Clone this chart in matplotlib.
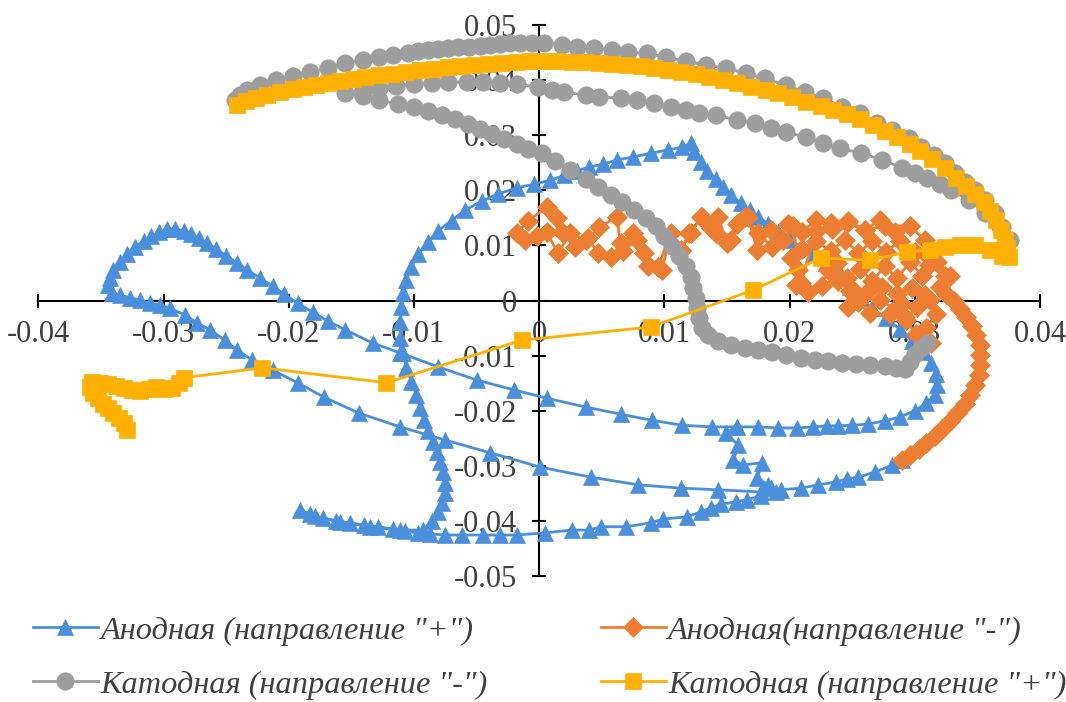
import matplotlib
matplotlib.use("Agg")
import matplotlib.pyplot as plt
from matplotlib import ticker

# Trajectories (x, y) of the four measurement series
anode_plus = [
    (0.0290, -0.0289), (0.0282, -0.0298), (0.0268, -0.0311), (0.0255, -0.0320), (0.0246, -0.0323),
    (0.0237, -0.0329), (0.0223, -0.0334), (0.0209, -0.0340), (0.0193, -0.0343), (0.0185, -0.0340),
    (0.0177, -0.0347), (0.0143, -0.0343), (0.0113, -0.0340), (0.0079, -0.0334), (0.0041, -0.0320),
    (0.0001, -0.0302), (-0.0039, -0.0276), (-0.0075, -0.0253), (-0.0111, -0.0229), (-0.0144, -0.0204),
    (-0.0172, -0.0175), (-0.0193, -0.0149), (-0.0213, -0.0126), (-0.0229, -0.0108), (-0.0241, -0.0090),
    (-0.0251, -0.0072), (-0.0263, -0.0053), (-0.0273, -0.0041), (-0.0283, -0.0026), (-0.0295, -0.0014),
    (-0.0303, -0.0008), (-0.0311, -0.0005), (-0.0319, 0.0001), (-0.0327, 0.0005), (-0.0335, 0.0010),
    (-0.0341, 0.0014),
    (-0.0344, 0.0028), (-0.0343, 0.0041), (-0.0340, 0.0055), (-0.0335, 0.0070), (-0.0329, 0.0084),
    (-0.0323, 0.0097), (-0.0316, 0.0108), (-0.0310, 0.0117), (-0.0304, 0.0124), (-0.0297, 0.0130),
    (-0.0291, 0.0130), (-0.0284, 0.0126), (-0.0278, 0.0120), (-0.0272, 0.0113), (-0.0265, 0.0104),
    (-0.0258, 0.0093), (-0.0250, 0.0081), (-0.0241, 0.0068), (-0.0233, 0.0055), (-0.0223, 0.0041),
    (-0.0213, 0.0026), (-0.0204, 0.0012), (-0.0193, -0.0005), (-0.0181, -0.0021), (-0.0169, -0.0037),
    (-0.0155, -0.0053), (-0.0133, -0.0077), (-0.0111, -0.0095), (-0.0081, -0.0120), (-0.0050, -0.0144),
    (-0.0020, -0.0162), (0.0006, -0.0177), (0.0037, -0.0193), (0.0065, -0.0206), (0.0090, -0.0217),
    (0.0114, -0.0226), (0.0138, -0.0229), (0.0158, -0.0229),
    (0.0149, -0.0240), (0.0159, -0.0262), (0.0155, -0.0289), (0.0163, -0.0298), (0.0178, -0.0294),
    (0.0174, -0.0322), (0.0183, -0.0334), (0.0189, -0.0347), (0.0177, -0.0354), (0.0166, -0.0361),
    (0.0157, -0.0365), (0.0145, -0.0369), (0.0137, -0.0376), (0.0129, -0.0383), (0.0118, -0.0392),
    (0.0099, -0.0396), (0.0089, -0.0403), (0.0069, -0.0410), (0.0049, -0.0410), (0.0040, -0.0416),
    (0.0026, -0.0416), (0.0005, -0.0421), (-0.0018, -0.0425), (-0.0031, -0.0425), (-0.0045, -0.0425),
    (-0.0062, -0.0425), (-0.0075, -0.0425), (-0.0087, -0.0423),
    (-0.0097, -0.0421), (-0.0107, -0.0418), (-0.0117, -0.0414), (-0.0129, -0.0410), (-0.0140, -0.0407),
    (-0.0151, -0.0403), (-0.0162, -0.0400), (-0.0173, -0.0394), (-0.0183, -0.0387), (-0.0191, -0.0380),
    (-0.0179, -0.0391), (-0.0159, -0.0401), (-0.0135, -0.0410), (-0.0111, -0.0416), (-0.0093, -0.0416),
    (-0.0086, -0.0400), (-0.0081, -0.0383), (-0.0078, -0.0367), (-0.0075, -0.0349), (-0.0075, -0.0331),
    (-0.0077, -0.0311), (-0.0079, -0.0293), (-0.0082, -0.0275), (-0.0085, -0.0256), (-0.0089, -0.0236),
    (-0.0092, -0.0217), (-0.0095, -0.0195), (-0.0098, -0.0171), (-0.0102, -0.0148), (-0.0106, -0.0122),
    (-0.0109, -0.0095), (-0.0111, -0.0068), (-0.0111, -0.0039), (-0.0110, -0.0012), (-0.0109, 0.0014),
    (-0.0106, 0.0037), (-0.0102, 0.0061), (-0.0097, 0.0084), (-0.0089, 0.0106), (-0.0081, 0.0126),
    (-0.0070, 0.0145), (-0.0059, 0.0164), (-0.0046, 0.0180), (-0.0033, 0.0193), (-0.0018, 0.0204),
    (-0.0004, 0.0211), (0.0009, 0.0218), (0.0020, 0.0227), (0.0030, 0.0235), (0.0040, 0.0242),
    (0.0051, 0.0247), (0.0062, 0.0255), (0.0075, 0.0260), (0.0089, 0.0267), (0.0103, 0.0273),
    (0.0114, 0.0278), (0.0121, 0.0285),
    (0.0124, 0.0269), (0.0129, 0.0251), (0.0134, 0.0235), (0.0141, 0.0220), (0.0147, 0.0206),
    (0.0153, 0.0191), (0.0161, 0.0177), (0.0168, 0.0164), (0.0175, 0.0151), (0.0183, 0.0139),
    (0.0191, 0.0124), (0.0200, 0.0110), (0.0209, 0.0097), (0.0219, 0.0084), (0.0229, 0.0068),
    (0.0238, 0.0048), (0.0248, 0.0024), (0.0256, 0.0005), (0.0266, -0.0014), (0.0277, -0.0032),
    (0.0288, -0.0052), (0.0298, -0.0073), (0.0307, -0.0093), (0.0313, -0.0113), (0.0317, -0.0133),
    (0.0318, -0.0153), (0.0316, -0.0171), (0.0309, -0.0186), (0.0300, -0.0200), (0.0288, -0.0211),
    (0.0276, -0.0218), (0.0263, -0.0224), (0.0250, -0.0226), (0.0239, -0.0227), (0.0230, -0.0227),
    (0.0219, -0.0229), (0.0206, -0.0231), (0.0191, -0.0231), (0.0175, -0.0229), (0.0158, -0.0229),
]

anode_minus = [
    (0.0290, -0.0289), (0.0296, -0.0280), (0.0303, -0.0269), (0.0309, -0.0258), (0.0316, -0.0246),
    (0.0322, -0.0233), (0.0328, -0.0218), (0.0334, -0.0204), (0.0340, -0.0188), (0.0344, -0.0171),
    (0.0348, -0.0153), (0.0351, -0.0135), (0.0352, -0.0117), (0.0352, -0.0099), (0.0352, -0.0081),
    (0.0349, -0.0063), (0.0346, -0.0046), (0.0341, -0.0030), (0.0336, -0.0015), (0.0331, -0.0001),
    (0.0325, 0.0012), (0.0320, 0.0024),
    (0.0328, 0.0045), (0.0318, 0.0070), (0.0306, 0.0045), (0.0296, 0.0070), (0.0286, 0.0040),
    (0.0276, 0.0062), (0.0266, 0.0035), (0.0256, 0.0058), (0.0246, 0.0040), (0.0238, 0.0068),
    (0.0250, 0.0020), (0.0262, 0.0015), (0.0274, 0.0025), (0.0286, 0.0012), (0.0298, 0.0022),
    (0.0308, 0.0010), (0.0302, -0.0012), (0.0290, -0.0006), (0.0280, -0.0025), (0.0292, -0.0030),
    (0.0312, 0.0001), (0.0317, -0.0024), (0.0309, -0.0050), (0.0313, -0.0077), (0.0301, -0.0061),
    (0.0293, -0.0035), (0.0284, -0.0015), (0.0272, 0.0001), (0.0264, -0.0023), (0.0255, -0.0003),
    (0.0247, -0.0012), (0.0248, 0.0017), (0.0239, 0.0035), (0.0231, 0.0055), (0.0226, 0.0026),
    (0.0215, 0.0015), (0.0205, 0.0028), (0.0207, 0.0055), (0.0201, 0.0077), (0.0210, 0.0093),
    (0.0221, 0.0108), (0.0233, 0.0090), (0.0244, 0.0110), (0.0255, 0.0086), (0.0266, 0.0108),
    (0.0277, 0.0088), (0.0288, 0.0108), (0.0300, 0.0088), (0.0311, 0.0064), (0.0324, 0.0044),
    (0.0308, 0.0110), (0.0296, 0.0135), (0.0284, 0.0124), (0.0272, 0.0146), (0.0260, 0.0128),
    (0.0247, 0.0144), (0.0234, 0.0130), (0.0221, 0.0146), (0.0210, 0.0124), (0.0199, 0.0139),
    (0.0186, 0.0097), (0.0175, 0.0122), (0.0164, 0.0151), (0.0153, 0.0110), (0.0141, 0.0122),
    (0.0130, 0.0151), (0.0120, 0.0122), (0.0113, 0.0092), (0.0103, 0.0110), (0.0095, 0.0061),
    (0.0084, 0.0086), (0.0075, 0.0122), (0.0065, 0.0104), (0.0062, 0.0151), (0.0048, 0.0133),
    (0.0037, 0.0110), (0.0025, 0.0122), (0.0015, 0.0086), (0.0006, 0.0124), (-0.0002, 0.0117),
    (-0.0011, 0.0110), (-0.0018, 0.0122), (-0.0009, 0.0144), (0.0006, 0.0169), (0.0014, 0.0149),
    (0.0018, 0.0124), (0.0029, 0.0097), (0.0039, 0.0113), (0.0047, 0.0086), (0.0057, 0.0079),
    (0.0067, 0.0090), (0.0078, 0.0110), (0.0087, 0.0063), (0.0098, 0.0055), (0.0105, 0.0122),
    (0.0113, 0.0090), (0.0121, 0.0122), (0.0129, 0.0151), (0.0137, 0.0131), (0.0143, 0.0151),
    (0.0150, 0.0104), (0.0158, 0.0139), (0.0167, 0.0151), (0.0174, 0.0092), (0.0185, 0.0128),
    (0.0195, 0.0110), (0.0203, 0.0135), (0.0209, 0.0032), (0.0221, 0.0126), (0.0233, 0.0140),
    (0.0246, 0.0140), (0.0260, 0.0128), (0.0276, 0.0135), (0.0296, 0.0135),
]

cathode_minus = [
    (-0.0243, 0.0363), (-0.0239, 0.0372), (-0.0233, 0.0381), (-0.0223, 0.0390), (-0.0210, 0.0400),
    (-0.0197, 0.0407), (-0.0183, 0.0414), (-0.0169, 0.0421), (-0.0155, 0.0430), (-0.0141, 0.0436),
    (-0.0128, 0.0441), (-0.0117, 0.0445), (-0.0105, 0.0448), (-0.0097, 0.0452), (-0.0089, 0.0454),
    (-0.0081, 0.0456), (-0.0073, 0.0458), (-0.0065, 0.0459), (-0.0056, 0.0459), (-0.0047, 0.0461),
    (-0.0039, 0.0463), (-0.0031, 0.0465), (-0.0023, 0.0467), (-0.0015, 0.0467), (-0.0006, 0.0467),
    (0.0004, 0.0467), (0.0018, 0.0463), (0.0030, 0.0459), (0.0044, 0.0458), (0.0058, 0.0454),
    (0.0071, 0.0450), (0.0086, 0.0448), (0.0101, 0.0441), (0.0117, 0.0434), (0.0133, 0.0427),
    (0.0149, 0.0421), (0.0165, 0.0412), (0.0180, 0.0403), (0.0197, 0.0390), (0.0212, 0.0378),
    (0.0227, 0.0367), (0.0242, 0.0351), (0.0256, 0.0340), (0.0270, 0.0322), (0.0282, 0.0309),
    (0.0295, 0.0294), (0.0305, 0.0278), (0.0315, 0.0264), (0.0324, 0.0249), (0.0332, 0.0231),
    (0.0340, 0.0215), (0.0348, 0.0200), (0.0356, 0.0182), (0.0364, 0.0159), (0.0370, 0.0133),
    (0.0376, 0.0110),
    (0.0368, 0.0133), (0.0356, 0.0159), (0.0343, 0.0182), (0.0329, 0.0200), (0.0320, 0.0211),
    (0.0310, 0.0222), (0.0300, 0.0231), (0.0290, 0.0240), (0.0274, 0.0255), (0.0257, 0.0267),
    (0.0240, 0.0276), (0.0227, 0.0285), (0.0213, 0.0296), (0.0197, 0.0305), (0.0185, 0.0313),
    (0.0172, 0.0322), (0.0158, 0.0327), (0.0141, 0.0336), (0.0128, 0.0340), (0.0117, 0.0345),
    (0.0105, 0.0351), (0.0092, 0.0358), (0.0078, 0.0363), (0.0065, 0.0367), (0.0048, 0.0369),
    (0.0037, 0.0372), (0.0020, 0.0378), (0.0010, 0.0381), (-0.0001, 0.0387), (-0.0018, 0.0392),
    (-0.0031, 0.0394), (-0.0045, 0.0396), (-0.0058, 0.0396), (-0.0073, 0.0396), (-0.0086, 0.0394),
    (-0.0100, 0.0392), (-0.0114, 0.0389), (-0.0128, 0.0385), (-0.0141, 0.0381), (-0.0155, 0.0376),
    (-0.0141, 0.0371), (-0.0128, 0.0363), (-0.0113, 0.0356), (-0.0100, 0.0351), (-0.0089, 0.0343),
    (-0.0078, 0.0336), (-0.0067, 0.0329), (-0.0057, 0.0320), (-0.0047, 0.0311), (-0.0038, 0.0302),
    (-0.0028, 0.0293), (-0.0018, 0.0284), (-0.0009, 0.0275), (0.0002, 0.0267), (0.0013, 0.0253),
    (0.0025, 0.0236), (0.0037, 0.0220), (0.0047, 0.0206), (0.0057, 0.0191), (0.0066, 0.0178),
    (0.0076, 0.0164), (0.0085, 0.0149), (0.0093, 0.0135), (0.0100, 0.0117), (0.0106, 0.0099),
    (0.0112, 0.0081), (0.0117, 0.0063), (0.0121, 0.0043), (0.0123, 0.0023), (0.0125, 0.0005),
    (0.0126, -0.0014), (0.0128, -0.0032), (0.0130, -0.0050), (0.0135, -0.0063), (0.0143, -0.0073),
    (0.0153, -0.0081), (0.0164, -0.0086), (0.0175, -0.0090), (0.0186, -0.0093), (0.0197, -0.0099),
    (0.0209, -0.0104), (0.0220, -0.0108), (0.0231, -0.0110), (0.0242, -0.0113), (0.0253, -0.0115),
    (0.0264, -0.0117), (0.0276, -0.0119), (0.0285, -0.0122), (0.0292, -0.0124), (0.0296, -0.0111),
    (0.0300, -0.0097), (0.0305, -0.0086), (0.0310, -0.0077),
]

cathode_plus = [
    (-0.0329, -0.0235), (-0.0332, -0.0222), (-0.0336, -0.0213), (-0.0340, -0.0204), (-0.0344, -0.0195),
    (-0.0348, -0.0188), (-0.0352, -0.0177), (-0.0356, -0.0168), (-0.0359, -0.0157), (-0.0357, -0.0148),
    (-0.0351, -0.0149), (-0.0344, -0.0151), (-0.0338, -0.0155), (-0.0332, -0.0159), (-0.0325, -0.0162),
    (-0.0319, -0.0164), (-0.0312, -0.0160), (-0.0306, -0.0157), (-0.0300, -0.0160), (-0.0293, -0.0159),
    (-0.0288, -0.0149), (-0.0284, -0.0140),
    (-0.0221, -0.0122), (-0.0122, -0.0149), (-0.0014, -0.0072), (0.0089, -0.0048), (0.0171, 0.0019),
    (0.0225, 0.0077), (0.0264, 0.0073), (0.0294, 0.0088), (0.0312, 0.0092), (0.0324, 0.0097),
    (0.0336, 0.0101), (0.0348, 0.0101), (0.0360, 0.0092), (0.0370, 0.0081),
    (0.0375, 0.0079), (0.0374, 0.0095), (0.0372, 0.0110), (0.0369, 0.0128), (0.0365, 0.0146),
    (0.0360, 0.0162), (0.0355, 0.0178), (0.0348, 0.0193), (0.0341, 0.0207), (0.0333, 0.0222),
    (0.0324, 0.0240), (0.0314, 0.0256), (0.0304, 0.0271), (0.0296, 0.0284), (0.0286, 0.0296),
    (0.0276, 0.0307), (0.0267, 0.0318), (0.0256, 0.0329), (0.0246, 0.0338), (0.0235, 0.0345),
    (0.0225, 0.0352), (0.0213, 0.0360), (0.0202, 0.0369), (0.0191, 0.0376), (0.0181, 0.0381),
    (0.0169, 0.0387), (0.0158, 0.0394), (0.0147, 0.0400), (0.0136, 0.0405), (0.0125, 0.0410),
    (0.0113, 0.0414), (0.0103, 0.0418), (0.0092, 0.0421), (0.0081, 0.0425), (0.0070, 0.0427),
    (0.0058, 0.0429), (0.0048, 0.0430), (0.0037, 0.0432), (0.0026, 0.0432), (0.0014, 0.0434),
    (0.0003, 0.0434), (-0.0007, 0.0434), (-0.0018, 0.0432), (-0.0030, 0.0430), (-0.0041, 0.0429),
    (-0.0052, 0.0427), (-0.0063, 0.0425), (-0.0073, 0.0423), (-0.0084, 0.0419), (-0.0095, 0.0418),
    (-0.0106, 0.0414), (-0.0117, 0.0410), (-0.0128, 0.0409), (-0.0139, 0.0405), (-0.0149, 0.0401),
    (-0.0159, 0.0398), (-0.0169, 0.0394), (-0.0178, 0.0390), (-0.0188, 0.0387), (-0.0197, 0.0383),
    (-0.0207, 0.0378), (-0.0217, 0.0372), (-0.0226, 0.0367), (-0.0234, 0.0361), (-0.0241, 0.0354),
]

series_labels = [
    'Анодная (направление "+")',
    'Анодная(направление "-")',
    'Катодная (направление "-")',
    'Катодная (направление "+")',
]
series_colors = ["#4A8FDB", "#ED7D31", "#9E9E9E", "#FFB000"]
series_markers = ["^", "D", "o", "s"]
marker_sizes = [11, 10, 12.5, 11.5]

x_ticks = [-0.04, -0.03, -0.02, -0.01, 0.0, 0.01, 0.02, 0.03, 0.04]
y_ticks = [-0.05, -0.04, -0.03, -0.02, -0.01, 0.0, 0.01, 0.02, 0.03, 0.04, 0.05]

plt.rcParams["font.family"] = ["Liberation Serif", "DejaVu Serif"]

fig = plt.figure(figsize=(10.66, 7.02), dpi=100)
ax = fig.add_axes([0.0360, 0.1789, 0.9396, 0.7860])

handles = []
for data, label, color, marker, ms, z in zip(
        [anode_plus, anode_minus, cathode_minus, cathode_plus],
        series_labels, series_colors, series_markers, marker_sizes, [3, 4, 5, 6]):
    xs, ys = zip(*data)
    h, = ax.plot(xs, ys, color=color, lw=2.0, marker=marker, markersize=ms,
                 markerfacecolor=color, markeredgecolor=color, markeredgewidth=0.5,
                 label=label, zorder=z, solid_joinstyle="round")
    handles.append(h)

ax.set_xlim(-0.04, 0.04)
ax.set_ylim(-0.05, 0.05)

for side in ("top", "right"):
    ax.spines[side].set_visible(False)
ax.spines["left"].set_position(("data", 0))
ax.spines["bottom"].set_position(("data", 0))
for side in ("left", "bottom"):
    ax.spines[side].set_linewidth(1.5)
    ax.spines[side].set_zorder(1)

ax.set_xticks(x_ticks)
ax.set_yticks(y_ticks)
fmt = ticker.FuncFormatter(lambda v, _: "0" if abs(v) < 1e-12 else f"{v:.2f}")
ax.xaxis.set_major_formatter(fmt)
ax.yaxis.set_major_formatter(fmt)
ax.tick_params(axis="both", direction="inout", length=10, width=1.5,
               labelsize=22, labelcolor="#404040", color="black")
ax.tick_params(axis="x", pad=9)
ax.tick_params(axis="y", pad=11)
ax.patch.set_alpha(0)

# legend: two columns, entries read row by row
order = [0, 2, 1, 3]
leg = fig.legend([handles[i] for i in order], [series_labels[i] for i in order],
                 loc="upper left", bbox_to_anchor=(0.031, 0.1225), ncol=2, frameon=False,
                 borderpad=0, borderaxespad=0,
                 prop={"family": ["Liberation Serif"], "style": "italic", "size": 23.3},
                 handlelength=2.0, handletextpad=0.08, columnspacing=3.5,
                 labelspacing=0.75, numpoints=1, labelcolor="#404040")

fig.savefig("out.png", dpi=100)
